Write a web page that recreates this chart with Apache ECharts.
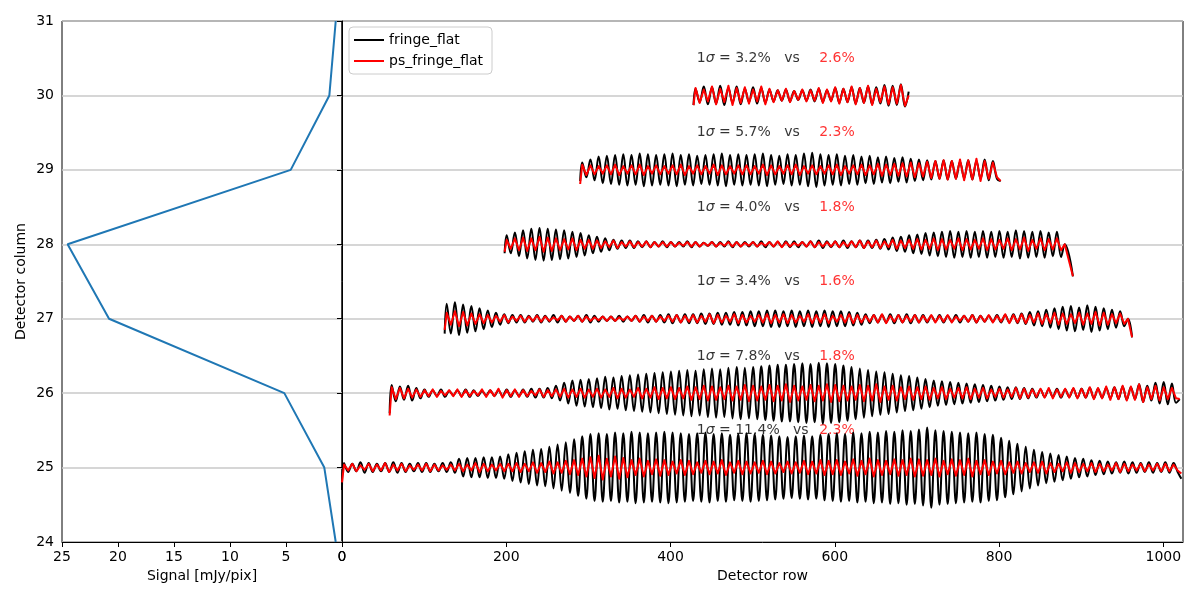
<!DOCTYPE html>
<html>
<head>
<meta charset="utf-8">
<script src="https://cdn.jsdelivr.net/npm/echarts@6/dist/echarts.min.js"></script>
<style>
  html, body { margin: 0; padding: 0; background: #fff; }
  #chart { width: 1200px; height: 600px; }
</style>
</head>
<body>
<div id="chart"></div>
<script>
// left panel: signal per detector column
const signalCols = [24, 25, 26, 27, 28, 29, 30, 31];
const signalVals = [0.56, 1.58, 5.15, 20.8, 24.5, 4.58, 1.13, 0.56];

// right panel: one fringe trace per column
const columns = [25, 26, 27, 28, 29, 30];
const rowStart = [0, 58, 125, 198, 290, 428];
const fringeStep = 10; // detector rows per fringe cycle

// starting / ending offsets of each trace (column units)
const blackFirst = [-0.30, -0.27, -0.20, -0.12, -0.15, -0.13];
const redFirst = [-0.20, -0.30, -0.15, -0.10, -0.19, -0.13];
const blackLast = [-0.15, -0.08, 0.0, 0.0, -0.15, 0.05];
const redLast = [-0.08, -0.08, 0.0, 0.0, -0.15, 0.0];
const tailRow = [null, null, 962, 890, null, null];
const tailDrop = [0, 0, -0.25, -0.43, 0, 0];

// fringe amplitude per cycle, in 1/100 of a column
const black25 = [6,5,7,6,5,6,7,6,5,6,
  6,5,6,7,12,13,13,14,14,15,
  18,20,22,24,25,28,31,34,38,42,
  45,46,45,47,46,48,47,46,47,48,
  47,46,45,46,47,45,46,44,45,46,
  45,44,43,42,41,42,43,42,44,45,
  46,45,47,46,48,47,49,48,50,49,
  51,54,50,49,48,47,46,47,45,44,
  40,36,32,28,24,21,19,17,15,13,
  12,10,9,8,7,8,7,6,7,6,
  7,6];
const red25 = [4,5,3,5,4,6,4,5,3,4,
  5,4,3,4,5,4,6,5,4,5,
  5,6,5,7,6,8,7,9,10,12,
  14,16,12,15,13,10,12,9,11,10,
  8,10,9,7,9,8,10,7,9,8,
  7,9,8,6,8,7,9,8,10,9,
  10,8,11,9,12,10,9,11,10,12,
  11,10,12,9,11,10,12,9,10,8,
  9,7,8,6,7,8,6,5,7,6,
  5,6,5,4,6,5,4,5,4,5,
  5,4];
const black26 = [11,9,10,7,
  5,4,5,3,4,5,4,3,4,4,5,4,5,6,6,
  7,10,14,17,18,
  19,20,22,21,23,24,25,26,27,28,
  29,30,31,30,32,33,32,34,35,34,
  35,36,37,38,38,39,40,39,41,40,
  39,37,35,33,31,29,28,26,24,23,
  21,19,17,16,15,14,13,12,11,10,
  9,8,8,7,6,5,5,6,5,6,
  6,7,6,7,8,9,8,12,10,14,
  15,13];
const red26 = [8,7,6,5,
  4,5,3,4,5,4,3,5,4,6,4,5,4,3,5,
  4,5,6,5,6,
  5,6,5,7,6,5,7,6,8,7,
  8,7,9,8,10,9,8,10,9,11,
  10,9,11,10,12,10,9,11,10,12,
  11,10,9,11,10,12,9,10,8,9,
  8,9,7,8,6,7,8,6,7,5,
  6,5,7,6,5,6,7,5,6,7,
  6,8,7,9,8,10,9,12,8,10,
  8,7];
const black27 = [20,22,19,17,
  14,11,8,6,5,5,
  4,5,4,5,4,3,4,5,4,3,
  3,4,3,4,5,4,5,6,5,6,
  6,7,7,8,8,9,9,10,10,11,
  11,10,11,10,11,10,11,10,10,9,
  8,6,5,5,6,5,6,5,5,4,
  5,4,5,4,5,4,4,5,5,6,
  7,9,10,12,14,16,17,15,18,16,
  14,12,10];
const red27 = [8,10,9,7,
  6,5,4,5,3,4,
  3,4,3,2,4,3,4,3,2,3,
  3,2,3,4,3,4,3,4,5,4,
  5,4,6,5,4,6,5,4,5,6,
  5,6,5,4,6,5,6,4,5,6,
  5,4,5,6,4,5,4,5,4,5,
  4,5,3,4,5,4,5,4,6,5,
  6,5,7,6,8,7,6,8,7,9,
  8,6,7];
const black28 = [12,16,19,21,22,21,20,19,17,15,
  12,10,8,6,5,5,4,4,3,4,
  3,3,4,3,2,3,3,4,3,3,
  3,4,3,3,4,4,3,4,5,4,
  4,5,4,5,5,6,7,9,10,12,
  13,15,16,17,18,17,18,17,18,17,
  18,17,19,18,17,18,16,17];
const red28 = [6,8,9,8,10,9,8,7,8,6,
  6,5,4,5,3,4,3,4,3,3,
  3,2,3,3,2,3,2,3,3,2,
  3,2,3,4,3,2,3,4,3,3,
  4,3,4,5,4,5,4,6,5,6,
  7,6,8,7,6,8,7,6,8,7,
  6,8,7,9,6,8,7,8];
const black29 = [10,14,18,19,20,21,20,22,21,20,
  21,22,20,21,19,20,21,22,20,21,
  20,21,22,20,19,21,20,22,23,21,
  20,21,19,20,18,19,17,18,16,17,
  15,14,13,12,13,12,11,13,12,14,
  12];
const red29 = [7,6,5,6,7,5,6,7,5,6,
  5,6,7,5,6,5,7,6,5,6,
  6,5,7,6,5,6,7,5,6,5,
  6,7,5,6,7,6,8,7,8,9,
  10,9,11,12,13,12,14,13,15,12,
  10];
const black30 = [9,12,11,13,10,12,9,11,10,8,
  7,8,6,7,8,9,7,10,9,11,
  10,12,11,14,13,15];
const red30 = [10,8,12,9,13,10,11,8,12,9,
  7,9,6,8,7,10,8,11,9,12,
  10,13,9,12,11,14];

const blackAmps = [black25, black26, black27, black28, black29, black30];
const redAmps = [red25, red26, red27, red28, red29, red30];

// scatter labels
const sigmaBlack = ['11.4', '7.8', '3.4', '4.0', '5.7', '3.2'];
const sigmaRed = ['2.3', '1.8', '1.6', '1.8', '2.3', '2.6'];
const labelRowBlack = 432;
const labelRowRed = 581;

const FONT = 'DejaVu Sans';

function fringeLine(i, amps, first, last) {
    let col = columns[i];
    let start = rowStart[i];
    let pts = [[start, col + first]];
    amps.forEach(function (a, k) {
        pts.push([start + fringeStep * k + 2.5, col + a / 100]);
        pts.push([start + fringeStep * k + 7.5, col - a / 100]);
    });
    pts.push([start + fringeStep * amps.length + 2, col + last]);
    if (tailRow[i] !== null) {
        pts.push([tailRow[i], col + tailDrop[i]]);
    }
    return pts;
}

let series = [];
series.push({
    type: 'line',
    xAxisIndex: 0,
    yAxisIndex: 0,
    data: signalVals.map(function (v, i) { return [v, signalCols[i]]; }),
    symbol: 'none',
    lineStyle: { color: '#1f77b4', width: 2 },
    itemStyle: { color: '#1f77b4' }
});
for (let i = 0; i < columns.length; i++) {
    series.push({
        name: 'fringe_flat',
        type: 'line',
        xAxisIndex: 1,
        yAxisIndex: 1,
        data: fringeLine(i, blackAmps[i], blackFirst[i], blackLast[i]),
        symbol: 'none',
        smooth: 0.4,
        lineStyle: { color: '#000000', width: 2 },
        itemStyle: { color: '#000000' }
    });
}
for (let i = 0; i < columns.length; i++) {
    series.push({
        name: 'ps_fringe_flat',
        type: 'line',
        xAxisIndex: 1,
        yAxisIndex: 1,
        data: fringeLine(i, redAmps[i], redFirst[i], redLast[i]),
        symbol: 'none',
        lineStyle: { color: '#ff0000', width: 2, join: 'round' },
        itemStyle: { color: '#ff0000' }
    });
}
series.push({
    type: 'scatter',
    xAxisIndex: 1,
    yAxisIndex: 1,
    symbolSize: 0,
    silent: true,
    data: columns.map(function (c) { return [labelRowBlack, c + 0.5]; }),
    label: {
        show: true,
        position: 'right',
        distance: 0,
        color: '#000000',
        fontFamily: FONT,
        fontSize: 14,
        formatter: function (p) { return '1{s|σ} = ' + sigmaBlack[p.dataIndex] + '%   vs'; },
        rich: { s: { fontStyle: 'italic', fontFamily: FONT, fontSize: 14, color: '#000000' } }
    }
});
series.push({
    type: 'scatter',
    xAxisIndex: 1,
    yAxisIndex: 1,
    symbolSize: 0,
    silent: true,
    data: columns.map(function (c) { return [labelRowRed, c + 0.5]; }),
    label: {
        show: true,
        position: 'right',
        distance: 0,
        color: '#ff0000',
        fontFamily: FONT,
        fontSize: 14,
        formatter: function (p) { return sigmaRed[p.dataIndex] + '%'; }
    }
});

let axisCommon = {
    axisLine: { show: true, lineStyle: { color: '#000', width: 1 } },
    axisTick: { show: true, length: 5, lineStyle: { color: '#000' } },
    axisLabel: { color: '#000', fontFamily: FONT, fontSize: 14 },
    nameTextStyle: { color: '#000', fontFamily: FONT, fontSize: 14 }
};
let gridLine = { show: true, lineStyle: { color: '#c8c8c8', width: 1.6 } };

let option = {
    backgroundColor: '#ffffff',
    animation: false,
    grid: [
        { left: 62, top: 21, width: 280, height: 521, show: true, borderColor: '#000', borderWidth: 1, backgroundColor: 'transparent' },
        { left: 342, top: 21, width: 841, height: 521, show: true, borderColor: '#000', borderWidth: 1, backgroundColor: 'transparent' }
    ],
    legend: {
        data: ['fringe_flat', 'ps_fringe_flat'],
        orient: 'vertical',
        left: 349,
        top: 27,
        icon: 'rect',
        itemWidth: 30,
        itemHeight: 2,
        itemGap: 7,
        padding: [6, 9, 6, 5],
        backgroundColor: '#ffffff',
        borderColor: '#cccccc',
        borderWidth: 1,
        borderRadius: 4,
        textStyle: { color: '#000', fontFamily: FONT, fontSize: 14 }
    },
    xAxis: [
        Object.assign({}, axisCommon, {
            type: 'value', gridIndex: 0, min: 0, max: 25, interval: 5, inverse: true,
            name: 'Signal [mJy/pix]', nameLocation: 'middle', nameGap: 27,
            splitLine: { show: false }
        }),
        Object.assign({}, axisCommon, {
            type: 'value', gridIndex: 1, min: 0, max: 1024, interval: 200,
            name: 'Detector row', nameLocation: 'middle', nameGap: 27,
            axisLabel: {
                color: '#000', fontFamily: FONT, fontSize: 14, showMaxLabel: false,
                formatter: function (v) { return String(v); }
            },
            splitLine: { show: false }
        })
    ],
    yAxis: [
        Object.assign({}, axisCommon, {
            type: 'value', gridIndex: 0, min: 24, max: 31, interval: 1,
            name: 'Detector column', nameLocation: 'middle', nameGap: 34,
            splitLine: gridLine
        }),
        {
            type: 'value', gridIndex: 1, min: 24, max: 31, interval: 1,
            axisLine: { show: false },
            axisTick: { show: false },
            axisLabel: { show: false },
            splitLine: gridLine
        }
    ],
    series: series
};

let chart = echarts.init(document.getElementById('chart'));
chart.setOption(option);
</script>
</body>
</html>
